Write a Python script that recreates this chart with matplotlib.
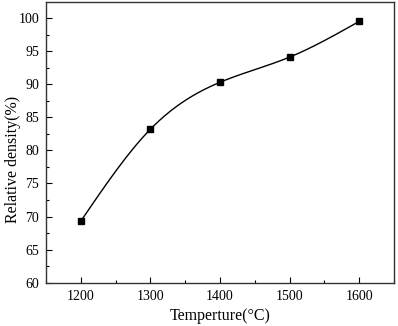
import numpy as np
import matplotlib
matplotlib.use("Agg")
import matplotlib.pyplot as plt
from matplotlib.ticker import MultipleLocator

plt.rcParams["font.family"] = ["Liberation Serif", "DejaVu Serif"]

# Sintering temperature vs relative density
temperature = [1200, 1300, 1400, 1500, 1600]
density = [69.3, 83.2, 90.3, 94.1, 99.5]


def natural_spline(x, y, n=200):
    # natural cubic spline through the points, like Origin's "Spline" connect
    x = np.asarray(x, float)
    y = np.asarray(y, float)
    k = len(x)
    h = np.diff(x)
    A = np.zeros((k, k))
    b = np.zeros(k)
    A[0, 0] = A[-1, -1] = 1
    for i in range(1, k - 1):
        A[i, i - 1] = h[i - 1]
        A[i, i] = 2 * (h[i - 1] + h[i])
        A[i, i + 1] = h[i]
        b[i] = 3 * ((y[i + 1] - y[i]) / h[i] - (y[i] - y[i - 1]) / h[i - 1])
    c = np.linalg.solve(A, b)
    xs = np.linspace(x[0], x[-1], n)
    idx = np.clip(np.searchsorted(x, xs) - 1, 0, k - 2)
    dx = xs - x[idx]
    bb = (y[idx + 1] - y[idx]) / h[idx] - h[idx] * (2 * c[idx] + c[idx + 1]) / 3
    dd = (c[idx + 1] - c[idx]) / (3 * h[idx])
    ys = y[idx] + bb * dx + c[idx] * dx ** 2 + dd * dx ** 3
    return xs, ys


fig = plt.figure(figsize=(3.98, 3.26), dpi=100)
ax = fig.add_axes([0.1156, 0.133, 0.874, 0.86])

xs, ys = natural_spline(temperature, density)
ax.plot(xs, ys, color="black", lw=1.0)
ax.plot(temperature, density, "s", color="black", ms=4.6)

ax.set_xlim(1150, 1650)
ax.set_ylim(60, 102.4)
ax.xaxis.set_major_locator(MultipleLocator(100))
ax.xaxis.set_minor_locator(MultipleLocator(50))
ax.yaxis.set_major_locator(MultipleLocator(5))
ax.yaxis.set_minor_locator(MultipleLocator(2.5))
ax.tick_params(which="both", direction="in", top=False, right=False,
               labelsize=10, width=0.8, pad=5)
ax.tick_params(which="major", length=4)
ax.tick_params(which="minor", length=2)

for s in ax.spines.values():
    s.set_color("#333333")
    s.set_linewidth(1.0)

ax.set_xlabel("Temperture(°C)", fontsize=11.5, labelpad=4)
ax.set_ylabel("Relative density(%)", fontsize=11.5, va="center")
ax.yaxis.set_label_coords(-0.095, 0.44)

fig.savefig("out.png", dpi=100)
